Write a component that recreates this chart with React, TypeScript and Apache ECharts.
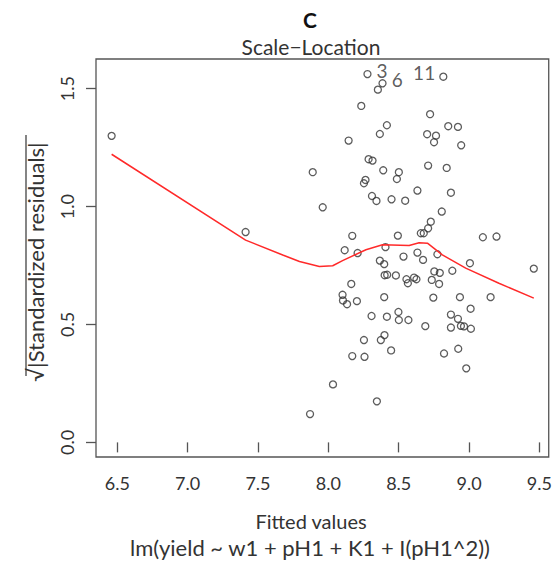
import React, { useEffect, useRef } from "react";
import * as echarts from "echarts";

// Fitted values (x) and sqrt(|standardized residuals|) (y)
const fittedValues = [
  6.460, 7.412, 7.870, 7.889, 7.960, 8.033, 8.116, 8.101, 8.104, 8.133,
  8.144, 8.163, 8.170, 8.170, 8.203, 8.208, 8.234, 8.253, 8.264, 8.253,
  8.257, 8.278, 8.286, 8.314, 8.310, 8.307, 8.342, 8.345, 8.352, 8.366,
  8.366, 8.373, 8.385, 8.390, 8.397, 8.397, 8.399, 8.400, 8.418, 8.406,
  8.416, 8.416, 8.446, 8.449, 8.480, 8.487, 8.494, 8.501, 8.498, 8.501,
  8.534, 8.546, 8.555, 8.565, 8.569, 8.609, 8.626, 8.633, 8.633, 8.657,
  8.678, 8.673, 8.689, 8.702, 8.709, 8.709, 8.723, 8.728, 8.735, 8.746,
  8.751, 8.753, 8.765, 8.775, 8.787, 8.792, 8.806, 8.817, 8.822, 8.841,
  8.852, 8.871, 8.871, 8.871, 8.881, 8.921, 8.921, 8.923, 8.935, 8.942,
  8.944, 8.964, 8.980, 9.006, 9.011, 9.013, 9.098, 9.153, 9.195, 9.460,
];
const sqrtStdResiduals = [
  1.300, 0.892, 0.120, 1.146, 0.997, 0.246, 0.815, 0.626, 0.602, 0.586,
  1.280, 0.672, 0.876, 0.366, 0.599, 0.803, 1.427, 1.099, 1.113, 0.434,
  0.363, 1.562, 1.201, 1.195, 1.045, 0.536, 1.024, 0.174, 1.496, 1.308,
  0.771, 0.434, 1.523, 1.154, 0.756, 0.616, 0.455, 0.709, 0.711, 0.828,
  1.345, 0.533, 0.390, 1.031, 0.708, 1.117, 0.877, 1.146, 0.553, 0.519,
  0.788, 1.025, 0.692, 0.675, 0.519, 0.699, 0.692, 1.068, 0.805, 0.887,
  0.887, 0.774, 0.493, 1.307, 0.908, 1.174, 1.392, 0.936, 0.689, 0.614,
  1.273, 0.725, 1.301, 0.798, 0.672, 0.719, 0.979, 1.551, 0.377, 1.164,
  1.341, 1.059, 0.542, 0.487, 0.728, 1.338, 0.524, 0.397, 0.616, 0.494,
  1.260, 0.492, 0.314, 0.760, 0.567, 0.482, 0.870, 0.616, 0.873, 0.737,
];

// Point identifiers shown next to the three largest values
const pointLabelIndex = [21, 32, 77];
const pointLabelText = ["3", "6", "11"];
const pointLabelSide = ["right", "right", "left"];

// Smoother (red line)
const smoothX = [6.460, 7.412, 7.676, 7.795, 7.936, 8.031, 8.101, 8.267, 8.385, 8.574, 8.645, 8.704, 8.810, 8.976, 9.212, 9.460];
const smoothY = [1.222, 0.858, 0.795, 0.767, 0.746, 0.749, 0.771, 0.817, 0.838, 0.835, 0.847, 0.845, 0.795, 0.739, 0.675, 0.612];

const xTicks = [6.5, 7.0, 7.5, 8.0, 8.5, 9.0, 9.5];
const yTicks = [0.0, 0.5, 1.0, 1.5];

const FONT = "Lato, 'Open Sans', sans-serif";

export default function App() {
  const ref = useRef<HTMLDivElement>(null);

  useEffect(() => {
    document.body.style.margin = "0";
    if (!ref.current) return;
    const chart = echarts.init(ref.current, undefined, { renderer: "svg" });

    const scatterData = fittedValues.map((x, i) => {
      const k = pointLabelIndex.indexOf(i);
      if (k < 0) return [x, sqrtStdResiduals[i]];
      return {
        value: [x, sqrtStdResiduals[i]],
        label: {
          show: true,
          formatter: pointLabelText[k],
          position: pointLabelSide[k],
          distance: pointLabelSide[k] === "right" ? 5 : 4,
          offset: [0, -4],
          color: "#333",
          fontSize: 19,
          fontFamily: FONT,
        },
      };
    });

    const tickFmt = (v: number) => v.toFixed(1);

    chart.setOption({
      animation: false,
      backgroundColor: "#fff",
      grid: {
        left: 96,
        right: 5,
        top: 59,
        bottom: 106,
        show: true,
        borderColor: "#555",
        borderWidth: 1.3,
        backgroundColor: "transparent",
      },
      xAxis: {
        type: "value",
        min: 6.349,
        max: 9.566,
        axisLine: { show: false },
        splitLine: { show: false },
        axisTick: {
          show: true,
          length: 10,
          customValues: xTicks,
          lineStyle: { color: "#555", width: 1.3 },
        },
        axisLabel: {
          customValues: xTicks,
          formatter: tickFmt,
          margin: 17,
          color: "#333",
          fontSize: 18,
          fontFamily: FONT,
        },
      },
      yAxis: {
        type: "value",
        min: -0.062,
        max: 1.626,
        axisLine: { show: false },
        splitLine: { show: false },
        axisTick: {
          show: true,
          length: 10,
          customValues: yTicks,
          lineStyle: { color: "#555", width: 1.3 },
        },
        axisLabel: {
          customValues: yTicks,
          formatter: tickFmt,
          rotate: 90,
          margin: 20,
          color: "#333",
          fontSize: 18,
          fontFamily: FONT,
        },
      },
      graphic: [
        {
          type: "text",
          x: 310,
          y: 19,
          style: {
            text: "C",
            font: `bold 21px ${FONT}`,
            fill: "#111",
            textAlign: "center",
            textVerticalAlign: "middle",
          },
        },
        {
          type: "text",
          x: 311,
          y: 46,
          style: {
            text: "Scale\u2212Location",
            font: `21px ${FONT}`,
            fill: "#333",
            textAlign: "center",
            textVerticalAlign: "middle",
          },
        },
        {
          type: "text",
          x: 311,
          y: 521,
          style: {
            text: "Fitted values",
            font: `20px ${FONT}`,
            fill: "#333",
            textAlign: "center",
            textVerticalAlign: "middle",
          },
        },
        {
          type: "text",
          x: 310,
          y: 547,
          style: {
            text: "lm(yield ~ w1 + pH1 + K1 + I(pH1^2))",
            font: `22px ${FONT}`,
            fill: "#333",
            textAlign: "center",
            textVerticalAlign: "middle",
          },
        },
        {
          type: "text",
          x: 35,
          y: 262,
          rotation: Math.PI / 2,
          style: {
            text: "\u221A|Standardized residuals|",
            font: `22px ${FONT}`,
            fill: "#333",
            textAlign: "center",
            textVerticalAlign: "middle",
          },
        },
        {
          type: "line",
          shape: { x1: 26, y1: 376, x2: 26, y2: 135 },
          style: { stroke: "#333", lineWidth: 1.2 },
        },
      ],
      series: [
        {
          type: "scatter",
          data: scatterData,
          symbol: "circle",
          symbolSize: 7,
          itemStyle: {
            color: "rgba(0,0,0,0)",
            borderColor: "#333",
            borderWidth: 1.3,
          },
          z: 3,
        },
        {
          type: "line",
          data: smoothX.map((x, i) => [x, smoothY[i]]),
          showSymbol: false,
          symbol: "none",
          lineStyle: { color: "#ff2a2a", width: 1.5 },
          z: 4,
        },
      ],
    });

    return () => chart.dispose();
  }, []);

  return <div ref={ref} style={{ width: 555, height: 563 }} />;
}
